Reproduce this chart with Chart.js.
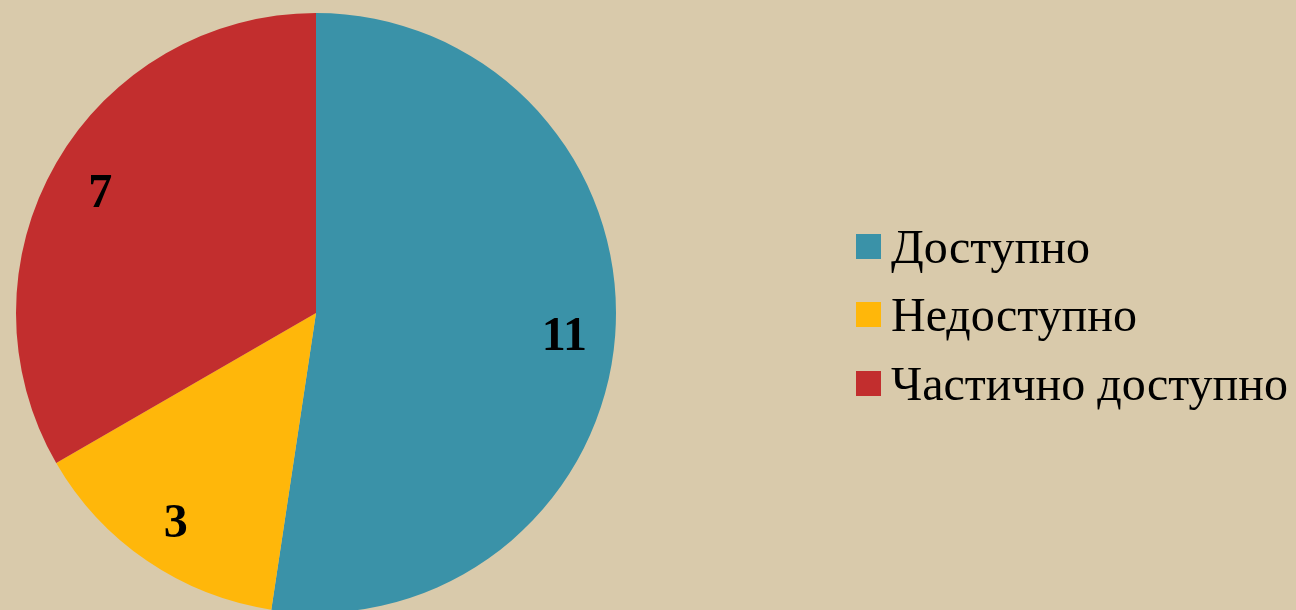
<!DOCTYPE html>
<html>
<head>
<meta charset="utf-8">
<script src="https://cdn.jsdelivr.net/npm/chart.js@4/dist/chart.umd.min.js"></script>
<style>
  html, body { margin: 0; padding: 0; background: #D9CAAB; overflow: hidden; }
  #wrap { position: relative; width: 1296px; height: 610px; overflow: hidden; }
  canvas { position: absolute; left: 0; top: 0; }
  #legend { position: absolute; left: 856px; top: 212px; font-family: "Liberation Serif", "Times New Roman", serif; font-size: 48px; color: #000; }
  .item { display: flex; align-items: center; height: 68.5px; }
  .sw { width: 25px; height: 25px; margin-right: 10px; }
</style>
</head>
<body>
<div id="wrap">
  <canvas id="c" width="1296" height="616"></canvas>
  <div id="legend"></div>
</div>
<script>
const categories = ["Доступно", "Недоступно", "Частично доступно"];
const values = [11, 3, 7];
const colors = ["#3A92A8", "#FFB70A", "#C22E2E"];

const labelPlugin = {
  id: 'sliceLabels',
  afterDatasetsDraw(chart) {
    const ctx = chart.ctx;
    const meta = chart.getDatasetMeta(0);
    ctx.save();
    ctx.font = 'bold 48px "Liberation Serif", "Times New Roman", serif';
    ctx.fillStyle = '#000';
    ctx.textAlign = 'center';
    ctx.textBaseline = 'middle';
    meta.data.forEach((arc, i) => {
      const p = arc.getProps(['x', 'y', 'startAngle', 'endAngle', 'outerRadius'], true);
      const mid = (p.startAngle + p.endAngle) / 2;
      const r = p.outerRadius * 0.83;
      ctx.fillText(String(values[i]), p.x + Math.cos(mid) * r, p.y + Math.sin(mid) * r + 6);
    });
    ctx.restore();
  }
};

const chart = new Chart(document.getElementById('c'), {
  type: 'pie',
  data: {
    labels: categories,
    datasets: [{ data: values, backgroundColor: colors, borderWidth: 0 }]
  },
  options: {
    responsive: false,
    animation: false,
    layout: { padding: { left: 16, right: 680, top: 13, bottom: 3 } },
    plugins: { legend: { display: false }, tooltip: { enabled: false } }
  },
  plugins: [labelPlugin]
});

const legend = document.getElementById('legend');
categories.forEach((name, i) => {
  const row = document.createElement('div');
  row.className = 'item';
  const sw = document.createElement('div');
  sw.className = 'sw';
  sw.style.background = colors[i];
  const t = document.createElement('span');
  t.textContent = name;
  row.appendChild(sw);
  row.appendChild(t);
  legend.appendChild(row);
});
</script>
</body>
</html>
